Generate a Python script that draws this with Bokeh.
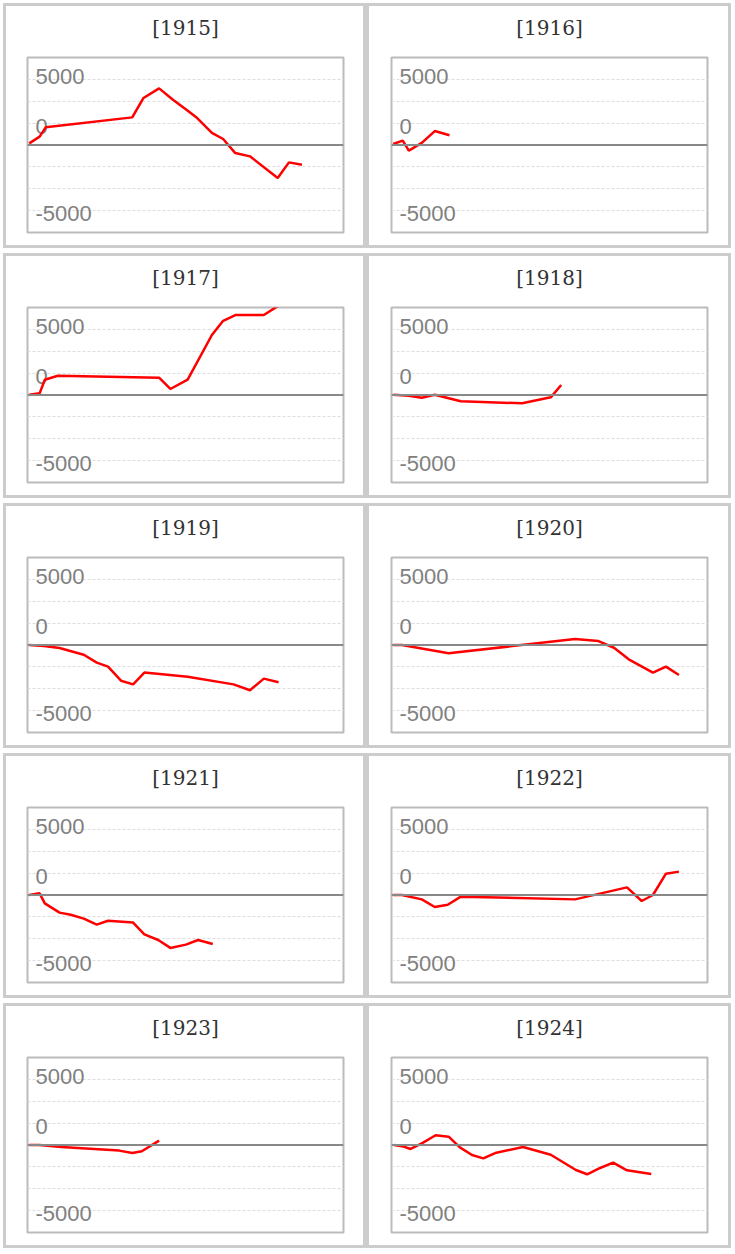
from bokeh.plotting import figure
from bokeh.layouts import column, row
from bokeh.models import Range1d, FixedTicker, Span, LinearAxis, Title
from bokeh.embed import file_html
from bokeh.resources import INLINE
from bokeh.core.properties import value

# ---------------- data (day of year, value) ----------------
years = ["1915", "1916", "1917", "1918", "1919", "1920", "1921", "1922", "1923", "1924"]

days_1915 = [2, 14, 21, 121, 134, 152, 168, 184, 196, 213, 226, 240, 257, 289, 302, 317]
vals_1915 = [120, 610, 1290, 2020, 3440, 4140, 3310, 2560, 1970, 880, 440, -590, -830, -2410, -1270, -1440]

days_1916 = [2, 13, 20, 35, 50, 67]
vals_1916 = [70, 320, -410, 150, 1020, 710]

days_1917 = [2, 14, 20, 35, 152, 165, 185, 213, 226, 240, 273, 289, 302]
vals_1917 = [20, 120, 1120, 1410, 1270, 440, 1120, 4390, 5430, 5850, 5850, 6500, 7500]

days_1918 = [2, 20, 35, 50, 80, 151, 184, 196]
vals_1918 = [20, -50, -200, 20, -460, -610, -170, 730]

days_1919 = [2, 19, 37, 65, 80, 93, 108, 122, 135, 185, 238, 257, 273, 290]
vals_1919 = [0, -70, -220, -710, -1290, -1580, -2610, -2880, -2020, -2320, -2880, -3310, -2460, -2730]

days_1920 = [2, 12, 66, 212, 239, 257, 274, 302, 317, 332]
vals_1920 = [0, 0, -610, 440, 290, -200, -1050, -2020, -1580, -2190]

days_1921 = [2, 14, 20, 37, 50, 65, 80, 93, 122, 135, 151, 165, 183, 197, 214]
vals_1921 = [0, 120, -610, -1290, -1440, -1730, -2170, -1880, -2020, -2880, -3290, -3870, -3630, -3290, -3580]

days_1922 = [2, 12, 35, 50, 65, 80, 212, 272, 289, 302, 317, 332]
vals_1922 = [0, 0, -320, -880, -710, -120, -320, 560, -440, 0, 1560, 1710]

days_1923 = [2, 14, 39, 106, 121, 132, 152]
vals_1923 = [0, 0, -150, -410, -590, -460, 320]

days_1924 = [3, 14, 22, 35, 51, 66, 79, 93, 106, 121, 152, 184, 213, 226, 241, 256, 272, 300]
vals_1924 = [0, -120, -290, 120, 710, 610, -170, -730, -980, -560, -150, -710, -1830, -2140, -1680, -1290, -1850, -2120]

grid_values = [-4800, -3200, -1600, 1600, 3200, 4800]
tick_values = [5000, 0, -5000]
tick_labels = ["5000", "0", "-5000"]

all_days = [days_1915, days_1916, days_1917, days_1918, days_1919,
            days_1920, days_1921, days_1922, days_1923, days_1924]
all_vals = [vals_1915, vals_1916, vals_1917, vals_1918, vals_1919,
            vals_1920, vals_1921, vals_1922, vals_1923, vals_1924]

BORDER = 3
PANEL_H = 245
FRAME_W = 316


def make_panel(year, days, vals, outer_w, gap_left):
    # host is border-box; canvas starts inside the border and is clipped by it
    bl = gap_left - BORDER
    br = outer_w - bl - FRAME_W
    p = figure(width=outer_w, height=PANEL_H,
               x_range=Range1d(0, 365), y_range=Range1d(-6400, 6400),
               output_backend="svg", toolbar_location=None,
               min_border_left=bl, min_border_right=br,
               min_border_top=51, min_border_bottom=19,
               styles={"border": "3px solid #cccccc"})
    p.background_fill_color = "white"
    p.border_fill_color = "white"
    p.outline_line_color = "#bbbbbb"
    p.outline_line_width = 2
    p.xaxis.visible = False
    p.yaxis.visible = False
    p.xgrid.visible = False
    p.ygrid.ticker = FixedTicker(ticks=grid_values)
    p.ygrid.grid_line_color = "#dddddd"
    p.ygrid.grid_line_dash = "3 2"
    p.ygrid.grid_line_width = 1

    # invisible spacer (axis with one blank tick) between the frame and the title
    spacer = LinearAxis(ticker=FixedTicker(ticks=[182]), major_tick_out=7, major_tick_in=0,
                        minor_tick_out=0, minor_tick_in=0, major_label_standoff=0,
                        major_label_overrides={182: ""}, major_label_text_font_size="1px",
                        axis_line_color=None, major_tick_line_color=None,
                        minor_tick_line_color=None)
    p.add_layout(spacer, "above")

    title = Title(text="[" + year + "]", align="center", vertical_align="top",
                  text_font="DejaVu Serif", text_font_size="20px",
                  text_font_style="normal", text_color="#333333", standoff=18)
    p.add_layout(title, "above")

    p.add_layout(Span(location=0, dimension="width", line_color="#888888", line_width=2))

    offsets = [-19 if v == 0 else 0 for v in tick_values]
    p.text(x=[0] * len(tick_values), y=tick_values, text=tick_labels,
           x_offset=8, y_offset=offsets,
           text_font=value("Liberation Sans"), text_font_size="22px",
           text_color="#808080", text_baseline="middle", text_align="left")

    p.line(days, vals, line_color="#ff0000", line_width=2.5)
    return p


rows = []
for i in range(0, len(years), 2):
    left = make_panel(years[i], all_days[i], all_vals[i], 363, 24)
    right = make_panel(years[i + 1], all_days[i + 1], all_vals[i + 1], 365, 25)
    rows.append(row(left, right, spacing=0))

layout = column(*rows, spacing=5, margin=(3, 0, 0, 3))

open("out.html", "w").write(file_html(layout, INLINE))
